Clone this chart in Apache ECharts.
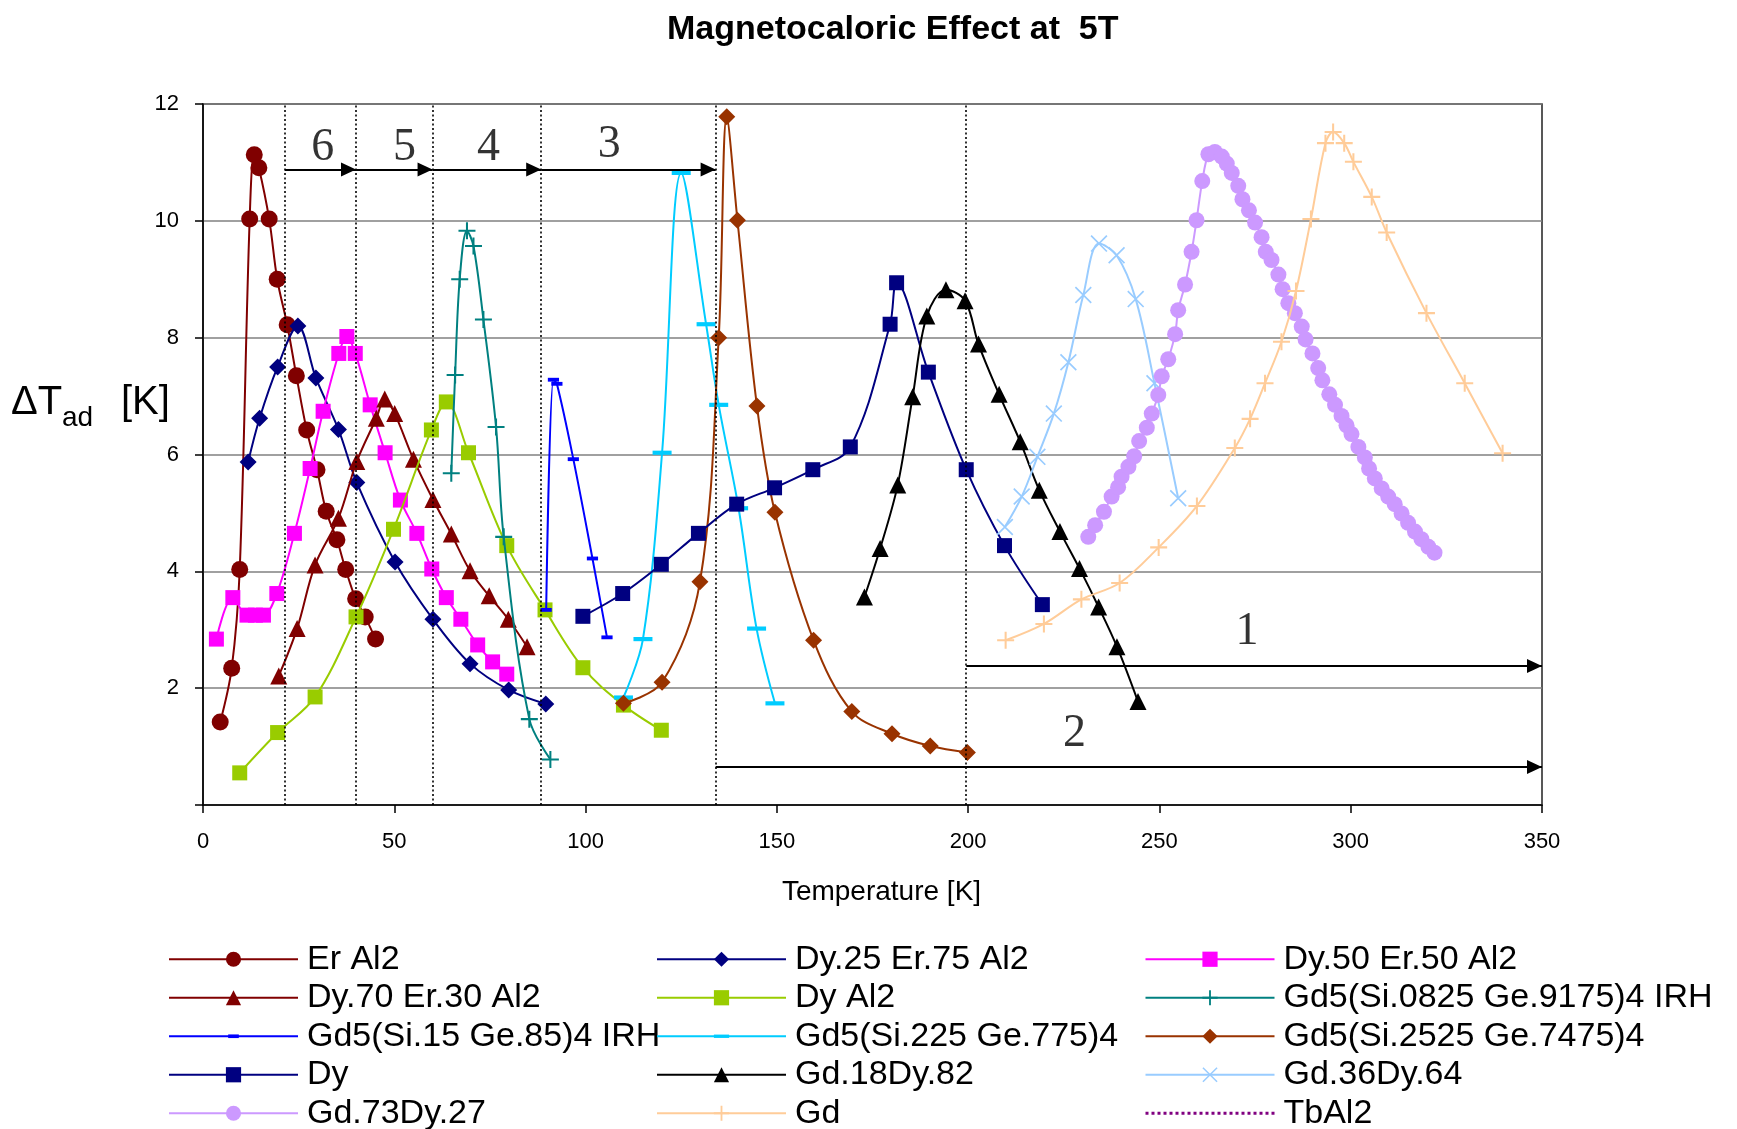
<!DOCTYPE html>
<html>
<head>
<meta charset="utf-8">
<script src="https://cdn.jsdelivr.net/npm/echarts@6/dist/echarts.min.js"></script>
<style>
  html, body { margin: 0; padding: 0; background: #fff; }
  #chart { width: 1737px; height: 1129px; }
</style>
</head>
<body>
<div id="chart"></div>
<script>
// ---------------- data (Temperature [K], ΔTad [K]) ----------------
const seriesNames = ['Er Al2', 'Dy.25 Er.75 Al2', 'Dy.50 Er.50 Al2', 'Dy.70 Er.30 Al2', 'Dy Al2',
  'Gd5(Si.0825 Ge.9175)4 IRH', 'Gd5(Si.15 Ge.85)4 IRH', 'Gd5(Si.225 Ge.775)4', 'Gd5(Si.2525 Ge.7475)4',
  'Dy', 'Gd.18Dy.82', 'Gd.36Dy.64', 'Gd.73Dy.27', 'Gd', 'TbAl2'];

const erAl2 = [[4.5,1.42],[7.5,2.34],[9.6,4.03],[12.2,10.03],[13.4,11.13],[14.6,10.91],[17.3,10.03],[19.4,9.0],[22.0,8.22],[24.4,7.35],[27.1,6.42],[29.8,5.74],[32.2,5.03],[35.0,4.54],[37.3,4.03],[39.9,3.53],[42.4,3.22],[45.1,2.84]];
const dy25Er75Al2 = [[11.8,5.87],[14.8,6.62],[19.5,7.50],[24.8,8.20],[29.5,7.31],[35.4,6.43],[40.2,5.52],[50.2,4.16],[60.1,3.18],[69.8,2.42],[79.9,1.97],[89.6,1.73]];
const dy50Er50Al2 = [[3.5,2.84],[7.8,3.55],[11.5,3.25],[13.7,3.25],[15.8,3.25],[19.3,3.62],[23.9,4.65],[28.0,5.76],[31.4,6.74],[35.5,7.73],[37.6,8.02],[39.8,7.73],[43.7,6.85],[47.6,6.03],[51.6,5.22],[55.9,4.65],[59.8,4.04],[63.6,3.55],[67.4,3.18],[71.8,2.74],[75.7,2.45],[79.4,2.24]];
const dy70Er30Al2 = [[19.8,2.21],[24.6,3.02],[29.3,4.11],[35.4,4.91],[40.2,5.88],[45.3,6.62],[47.5,6.95],[50.1,6.70],[55.0,5.92],[60.1,5.23],[64.9,4.64],[69.8,4.01],[74.8,3.58],[79.8,3.18],[84.7,2.71]];
const dyAl2 = [[9.6,0.55],[19.5,1.24],[29.3,1.85],[40.0,3.22],[49.8,4.72],[59.7,6.42],[63.6,6.90],[69.4,6.03],[79.4,4.44],[89.4,3.34],[99.3,2.35],[109.9,1.71],[119.8,1.28]];
const gdSi0825 = [[64.9,5.68],[65.9,7.36],[67.1,9.0],[69.0,9.83],[70.7,9.57],[73.3,8.31],[76.6,6.47],[78.6,4.59],[85.3,1.47],[90.8,0.78]];
const gdSi15 = [[89.7,3.34],[91.6,7.28],[92.5,7.21],[96.8,5.92],[101.8,4.22],[105.6,2.87]];
const gdSi225 = [[109.9,1.84],[115.0,2.84],[120.0,6.03],[125.0,10.82],[131.5,8.23],[134.8,6.85],[140.0,5.08],[144.7,3.02],[149.5,1.74]];
const gdSi2525 = [[109.9,1.74],[120.0,2.10],[129.9,3.82],[134.8,8.0],[136.9,11.78],[139.7,10.01],[144.8,6.83],[149.5,5.01],[159.6,2.82],[169.6,1.60],[180.1,1.22],[190.1,1.01],[199.8,0.90]];
const dy = [[99.3,3.23],[109.7,3.62],[119.8,4.12],[129.5,4.65],[139.5,5.15],[149.4,5.43],[159.4,5.74],[169.2,6.13],[179.6,8.23],[181.3,8.94],[189.6,7.41],[199.5,5.74],[209.5,4.44],[219.4,3.43]];
const gd18Dy82 = [[172.9,3.56],[177.0,4.39],[181.6,5.48],[185.5,6.99],[189.2,8.37],[194.2,8.82],[199.2,8.63],[202.7,7.89],[208.1,7.03],[213.6,6.22],[218.6,5.39],[224.0,4.68],[229.1,4.05],[234.1,3.39],[238.9,2.71],[244.4,1.77]];
const gd36Dy64 = [[209.6,4.76],[214.0,5.28],[218.1,5.96],[222.4,6.70],[226.2,7.58],[230.1,8.73],[234.2,9.61],[238.8,9.41],[243.8,8.66],[248.7,7.22],[254.9,5.25]];
const gd73Dy27 = [[231.4,4.59],[233.2,4.79],[235.5,5.02],[237.5,5.28],[239.2,5.44],[240.1,5.62],[241.9,5.79],[243.4,5.97],[244.7,6.23],[246.7,6.46],[248.0,6.70],[249.7,7.02],[250.6,7.34],[252.3,7.63],[254.1,8.06],[254.9,8.47],[256.7,8.91],[258.4,9.47],[259.7,10.01],[261.2,10.68],[262.8,11.14],[264.5,11.18],[266.3,11.10],[267.6,10.98],[268.9,10.82],[270.6,10.60],[271.7,10.37],[273.4,10.18],[275.0,9.97],[276.7,9.72],[277.8,9.47],[279.3,9.33],[281.1,9.08],[282.2,8.83],[283.7,8.59],[285.4,8.42],[287.2,8.19],[288.2,7.97],[290.0,7.73],[291.5,7.48],[292.6,7.27],[294.4,7.03],[295.9,6.85],[297.6,6.66],[298.9,6.50],[300.2,6.35],[302.0,6.13],[303.7,5.95],[304.8,5.76],[306.3,5.59],[308.1,5.42],[309.8,5.28],[311.5,5.15],[313.3,4.99],[315.0,4.83],[316.8,4.68],[318.5,4.55],[320.3,4.42],[321.9,4.32]];
const gd = [[209.8,2.82],[219.8,3.10],[229.6,3.52],[239.6,3.80],[249.8,4.41],[259.8,5.12],[269.7,6.11],[273.7,6.61],[277.6,7.22],[281.9,7.93],[285.7,8.80],[289.6,10.03],[293.4,11.33],[295.4,11.52],[298.3,11.33],[300.7,11.01],[305.5,10.41],[309.4,9.80],[319.8,8.42],[329.8,7.22],[339.7,6.02]];
const tbAl2 = [];

const seriesData = [erAl2, dy25Er75Al2, dy50Er50Al2, dy70Er30Al2, dyAl2, gdSi0825, gdSi15, gdSi225, gdSi2525, dy, gd18Dy82, gd36Dy64, gd73Dy27, gd, tbAl2];

// zone annotations (temperature boundaries, arrows, numbers)
const zoneBounds = [21.4, 40, 60, 88.4, 134, 199.5];
const zoneArrows = [[21.4, 40, 10.88], [40, 60, 10.88], [60, 88.4, 10.88], [88.4, 134, 10.88], [199.5, 350, 2.38], [134, 350, 0.65]];
const zoneLabels = [[31.3, 11.24, '6'], [52.7, 11.24, '5'], [74.6, 11.24, '4'], [106.2, 11.3, '3'], [272.9, 2.96, '1'], [227.8, 1.22, '2']];

const xTicks = { min: 0, max: 350, interval: 50 };
const yTicks = { min: 0, max: 12, interval: 2 };

// ---------------- styles ----------------
const PLUS = 'path://M0,4.4h10v1.2h-10z M4.4,0h1.2v10h-1.2z';
const CROSS = 'path://M0.7,0L10,9.3L9.3,10L0,0.7Z M9.3,0L10,0.7L0.7,10L0,9.3Z';
const DASH = 'path://M0,0 M10,10 M0,3.9h10v2.2h-10z';
const DASH_S = 'path://M0,0 M10,10 M1.5,3.8h7v2.4h-7z';
const looks = [
  { color: '#800000', symbol: 'circle', size: 17 },
  { color: '#000080', symbol: 'diamond', size: 17 },
  { color: '#FF00FF', symbol: 'rect', size: 15 },
  { color: '#800000', symbol: 'triangle', size: 17 },
  { color: '#99CC00', symbol: 'rect', size: 15 },
  { color: '#008080', symbol: PLUS, size: 17 },
  { color: '#0000FF', symbol: DASH_S, size: 16 },
  { color: '#00CCFF', symbol: DASH, size: 19 },
  { color: '#993300', symbol: 'diamond', size: 17 },
  { color: '#000080', symbol: 'rect', size: 15 },
  { color: '#000000', symbol: 'triangle', size: 17 },
  { color: '#99CCFF', symbol: CROSS, size: 17 },
  { color: '#CC99FF', symbol: 'circle', size: 16 },
  { color: '#FFCC99', symbol: PLUS, size: 17 },
  { color: '#800080', symbol: 'none', size: 0, dotted: true }
];

const FONT = 'Arial, "Liberation Sans", sans-serif';

const series = seriesNames.map((name, i) => ({
  name: name,
  type: 'line',
  data: seriesData[i],
  smooth: 0.35,
  symbol: looks[i].symbol,
  symbolSize: looks[i].size,
  showSymbol: looks[i].symbol !== 'none',
  color: looks[i].color,
  lineStyle: { width: looks[i].dotted ? 3 : 2, color: looks[i].color, type: looks[i].dotted ? 'dotted' : 'solid' },
  itemStyle: { color: looks[i].color, opacity: 1 },
  z: 3 + i * 0.01,
  emphasis: { disabled: true }
}));

// annotations: zone boundaries (dotted), arrows, numbers
const markData = [];
zoneBounds.forEach(x => markData.push([
  { coord: [x, yTicks.min], symbol: 'none', lineStyle: { type: [2, 2.5], width: 1.6, color: '#000' } },
  { coord: [x, yTicks.max], symbol: 'none' }
]));
zoneArrows.forEach(a => markData.push([
  { coord: [a[0], a[2]], symbol: 'none', lineStyle: { type: 'solid', width: 2.2, color: '#000' } },
  { coord: [a[1], a[2]], symbol: 'triangle', symbolSize: [14, 15], symbolOffset: [0, 7.5] }
]));

series.push({
  name: 'zones',
  type: 'scatter',
  data: zoneLabels.map(l => ({ value: [l[0], l[1]], name: l[2] })),
  symbolSize: 0,
  silent: true,
  z: 2,
  label: {
    show: true, position: 'inside', formatter: '{b}',
    fontFamily: '"Liberation Serif", "Times New Roman", serif', fontSize: 46, color: '#000'
  },
  markLine: {
    silent: true,
    animation: false,
    symbol: ['none', 'none'],
    symbolSize: 14,
    label: { show: false },
    lineStyle: { color: '#000', width: 2 },
    itemStyle: { color: '#000' },
    emphasis: { disabled: true },
    data: markData
  }
});

const legendCols = [
  ['Er Al2', 'Dy.70 Er.30 Al2', 'Gd5(Si.15 Ge.85)4 IRH', 'Dy', 'Gd.73Dy.27'],
  ['Dy.25 Er.75 Al2', 'Dy Al2', 'Gd5(Si.225 Ge.775)4', 'Gd.18Dy.82', 'Gd'],
  ['Dy.50 Er.50 Al2', 'Gd5(Si.0825 Ge.9175)4 IRH', 'Gd5(Si.2525 Ge.7475)4', 'Gd.36Dy.64', 'TbAl2']
];
const legendLeft = [168, 656, 1144];

const legends = legendCols.map((col, k) => ({
  orient: 'vertical',
  left: legendLeft[k],
  top: 940,
  width: 600,
  height: 260,
  padding: 0,
  itemGap: 0,
  itemWidth: 129,
  itemHeight: 19,
  selectedMode: false,
  textStyle: { fontFamily: FONT, fontSize: 34, color: '#000', lineHeight: 38.5, padding: [0, 0, 0, 4] },
  data: col.map(n => n === 'TbAl2'
    ? { name: n, itemStyle: { opacity: 0 }, lineStyle: { width: 3 } }
    : n)
}));

const chart = echarts.init(document.getElementById('chart'), null, { renderer: 'canvas' });
chart.setOption({
  animation: false,
  backgroundColor: '#fff',
  title: {
    text: 'Magnetocaloric Effect at  5T',
    left: 662, top: 8,
    textStyle: { fontFamily: FONT, fontSize: 34, fontWeight: 'bold', color: '#000' }
  },
  graphic: [
    { type: 'text', silent: true, style: { x: 11, y: 403, text: 'ΔT', font: '40px Arial, "Liberation Sans", sans-serif', fill: '#000', verticalAlign: 'middle' } },
    { type: 'text', silent: true, style: { x: 62, y: 418, text: 'ad', font: '28px Arial, "Liberation Sans", sans-serif', fill: '#000', verticalAlign: 'middle' } },
    { type: 'text', silent: true, style: { x: 121, y: 403, text: '[K]', font: '40px Arial, "Liberation Sans", sans-serif', fill: '#000', verticalAlign: 'middle' } }
  ],
  legend: legends,
  grid: {
    left: 203, right: 195, top: 104, bottom: 324,
    show: true, borderColor: '#222', borderWidth: 1.5, backgroundColor: 'transparent'
  },
  xAxis: {
    type: 'value',
    min: xTicks.min, max: xTicks.max, interval: xTicks.interval,
    name: 'Temperature [K]',
    nameLocation: 'middle',
    nameGap: 73,
    nameTextStyle: { fontFamily: FONT, fontSize: 28, color: '#000', padding: [0, 0, 0, 18] },
    axisLine: { show: true, onZero: false, lineStyle: { color: '#000', width: 1.5 } },
    axisTick: { show: true, length: 8, lineStyle: { color: '#000', width: 1.5 } },
    axisLabel: { fontFamily: FONT, fontSize: 22, color: '#000', margin: 26 },
    splitLine: { show: false }
  },
  yAxis: {
    type: 'value',
    min: yTicks.min, max: yTicks.max, interval: yTicks.interval,
    axisLine: { show: true, lineStyle: { color: '#000', width: 1.5 } },
    axisTick: { show: true, length: 8, lineStyle: { color: '#000', width: 1.5 } },
    axisLabel: { fontFamily: FONT, fontSize: 22, color: '#000', margin: 24, formatter: v => v === 0 ? '' : String(v) },
    splitLine: { show: true, lineStyle: { color: '#808080', width: 1.5 } }
  },
  series: series
});
</script>
</body>
</html>
